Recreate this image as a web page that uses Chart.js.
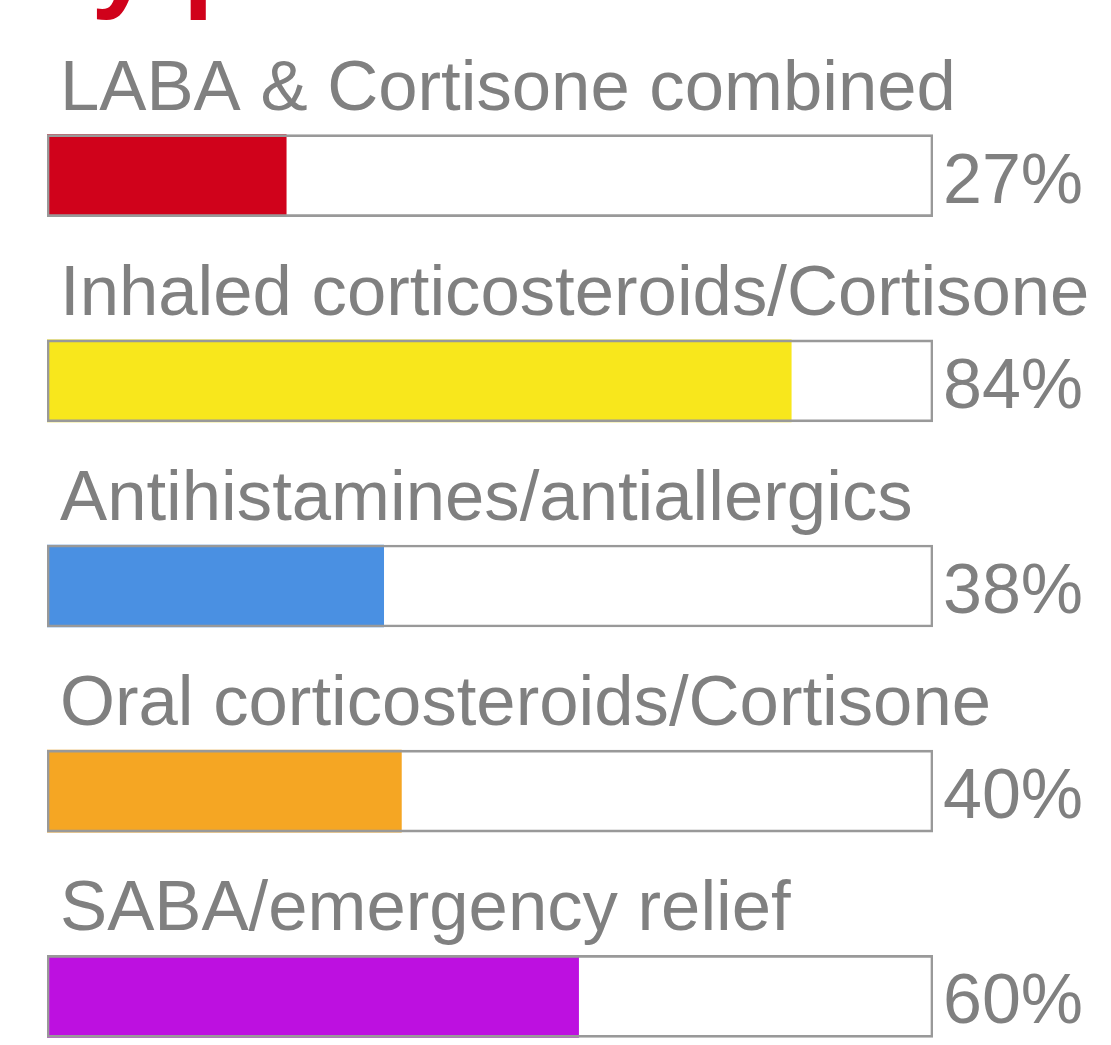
<!DOCTYPE html>
<html>
<head>
<meta charset="utf-8">
<script src="https://cdn.jsdelivr.net/npm/chart.js@4"></script>
<style>
  html, body { margin: 0; padding: 0; background: #fff; overflow: hidden; width: 1111px; height: 1045px; }
  #titel { position: absolute; left: 24px; top: -96px; font: bold 110px "Liberation Sans", Arial, sans-serif; line-height: 110px; color: #D0021B; white-space: nowrap; }
  #box { position: absolute; left: 0; top: 0; width: 1111px; height: 1110px; }
</style>
</head>
<body>
<div id="titel">by patients in the last 12 months</div>
<div id="box"><canvas id="GraficoMedicacao"></canvas></div>
<script>
var categorias = ["LABA & Cortisone combined", "Inhaled corticosteroids/Cortisone", "Antihistamines/antiallergics", "Oral corticosteroids/Cortisone", "SABA/emergency relief"];
var valores = [27, 84, 38, 40, 60];
var cores = ["#D0021B", "#F8E71C", "#4A90E2", "#F5A623", "#BD10E0"];
var total = [100, 100, 100, 100, 100];

// rotulos acima das barras e valor a direita
var rotulos = {
    id: 'rotulos',
    afterDatasetsDraw: function (chart) {
        var ctx = chart.ctx;
        var meta = chart.getDatasetMeta(0);
        ctx.save();
        ctx.fillStyle = "#808080";
        ctx.textBaseline = "alphabetic";
        ctx.textAlign = "left";
        meta.data.forEach(function (barra, i) {
            ctx.font = '70.7px "Liberation Sans", Arial, sans-serif';
            ctx.fillText(categorias[i], chart.chartArea.left + 13, barra.y - 66);
            ctx.font = '70px "Liberation Sans", Arial, sans-serif';
            ctx.fillText(valores[i] + "%", chart.chartArea.right + 10, barra.y + 27);
        });
        ctx.restore();
    }
};

new Chart(document.getElementById("GraficoMedicacao"), {
    type: 'bar',
    data: {
        labels: categorias,
        datasets: [{
            label: "Total",
            data: total,
            backgroundColor: "rgba(0,0,0,0)",
            borderColor: "#999999",
            borderWidth: 2,
            borderSkipped: false,
            grouped: false,
            order: 0
        }, {
            label: "Uso",
            data: valores,
            backgroundColor: cores,
            borderWidth: 0,
            grouped: false,
            order: 1
        }]
    },
    options: {
        indexAxis: 'y',
        responsive: true,
        maintainAspectRatio: false,
        animation: false,
        datasets: { bar: { barThickness: 82 } },
        layout: { padding: { left: 47, right: 178, top: 73, bottom: 11 } },
        scales: {
            x: { display: false, min: 0, max: 100 },
            y: { display: false, offset: true }
        },
        plugins: {
            legend: { display: false },
            tooltip: { enabled: false }
        }
    },
    plugins: [rotulos]
});
</script>
</body>
</html>
